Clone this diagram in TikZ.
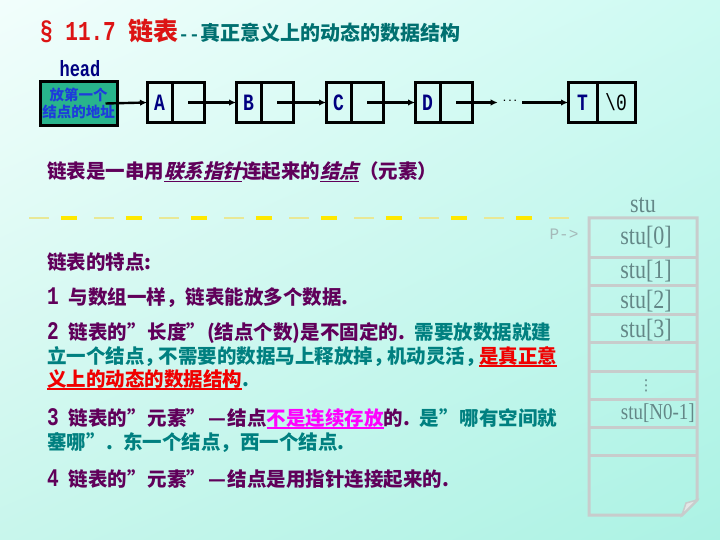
\documentclass[tikz,border=0pt]{standalone}
\usepackage{fontspec}
\usepackage{graphicx}
\usetikzlibrary{arrows.meta,positioning,shadings}
\newfontfamily\cjk{Noto Sans CJK SC}
\newfontfamily\cjkslant[FakeSlant=0.25]{Noto Sans CJK SC}
\newfontfamily\mono{Liberation Mono}
\newfontfamily\rmtimes{Liberation Serif}
\newfontfamily\dejavu{DejaVu Sans}
\definecolor{bgtl}{RGB}{242,254,252}
\definecolor{bgtr}{RGB}{205,250,242}
\definecolor{bgbl}{RGB}{200,246,236}
\definecolor{bgbr}{RGB}{172,242,228}
\definecolor{titlered}{RGB}{220,20,20}
\definecolor{titleteal}{RGB}{0,112,112}
\definecolor{plum}{RGB}{96,0,90}
\definecolor{tealt}{RGB}{0,128,128}
\definecolor{hotred}{RGB}{240,0,0}
\definecolor{hotpink}{RGB}{255,0,255}
\definecolor{navy}{RGB}{0,0,128}
\definecolor{headgreen}{RGB}{40,180,140}
\definecolor{headblue}{RGB}{30,60,220}
\definecolor{boxgray}{RGB}{200,204,204}
\definecolor{stugray}{RGB}{100,135,135}
\definecolor{pgray}{RGB}{165,185,185}
\definecolor{dashpale}{RGB}{232,232,150}
\definecolor{dashgold}{RGB}{255,232,0}
% thick underline in the current colour
\newcommand\ulbar[1]{\setbox0=\hbox{#1}\rlap{\rule[-4pt]{\wd0}{2.5pt}}\box0}
\newcommand\ulthin[1]{\setbox0=\hbox{#1}\rlap{\rule[-3pt]{\wd0}{1.2pt}}\box0}
\newcommand\tallstu[1]{\scalebox{1}[1.2]{#1}}
\newcommand\tallmono[1]{\scalebox{1}[1.3]{#1}}
% wide closing quote, narrow comma, wide dash, wide space
\newcommand\cq{\makebox[1.05em][l]{”}}
\newcommand\nc{\makebox[0.72em][l]{，}}
\newcommand\wdash{\makebox[1.05em][c]{—}}
\newcommand\wsp{\hspace{0.5em}}

\begin{document}
\begin{tikzpicture}[x=1pt,y=-1pt,
  cellbox/.style={rectangle,draw,line width=3pt,outer sep=0pt,inner sep=0pt,
                  minimum height=40pt,font=\mono\bfseries\fontsize{18}{18}\selectfont,text=navy},
  datacell/.style={cellbox,minimum width=25pt},
  ptrcell/.style={cellbox,minimum width=32pt},
  headbox/.style={rectangle,draw,line width=3pt,fill=headgreen,text=headblue,
                  minimum width=77pt,minimum height=44pt,inner sep=0pt,align=center,
                  font=\cjk\bfseries\fontsize{14.5}{17}\selectfont},
  arr/.style={-{Latex[length=7pt,width=6.5pt]},line width=2.4pt},
  txt/.style={anchor=west,inner sep=0pt,font=\cjk\bfseries\fontsize{19.5}{20}\selectfont},
  slot/.style={inner sep=0pt,text=stugray,font=\rmtimes\fontsize{22}{22}\selectfont},
  sep/.style={draw=boxgray,line width=3pt}
]
% background
\shade[upper left=bgtl,upper right=bgtr,lower left=bgbl,lower right=bgbr]
  (0,0) rectangle (720,540);
\useasboundingbox (0,0) rectangle (720,540);

% title
\node[anchor=base west,inner sep=0pt] (title) at (40,41)
  {\color{titlered}{\mono\bfseries\fontsize{21}{21}\selectfont\tallmono{§ 11.7} }%
   {\cjk\bfseries\fontsize{25}{25}\selectfont 链表}%
   \color{titleteal}{\mono\bfseries\fontsize{18}{18}\selectfont -{}-}%
   {\cjk\bfseries\fontsize{20}{20}\selectfont 真正意义上的动态的数据结构}};

% linked list
\node[font=\mono\bfseries\fontsize{17}{17}\selectfont,text=navy,inner sep=0pt] (hdlbl) at (80,69) {\tallmono{head}};
\node[headbox] (hd) at (78.5,103.5) {放第一个\\结点的地址};
\node[datacell] (a) at (159.5,102.5) {\tallmono{A}};
\node[ptrcell,right=0pt of a] (ap) {};
\node[datacell,right=32pt of ap] (b) {\tallmono{B}};
\node[ptrcell,right=0pt of b] (bp) {};
\node[datacell,right=33pt of bp] (c) {\tallmono{C}};
\node[ptrcell,right=0pt of c] (cp) {};
\node[datacell,right=32pt of cp] (d) {\tallmono{D}};
\node[ptrcell,right=0pt of d] (dp) {};
\node[font=\mono\bfseries\fontsize{9}{9}\selectfont,inner sep=4pt] (dots) at (510,102.5) {\raisebox{3pt}{...}};
\node[cellbox,minimum width=29pt] (t) at (582.5,102.5) {\tallmono{T}};
\node[cellbox,minimum width=38pt,right=0pt of t,text=black,font=\mono\fontsize{18}{18}\selectfont] (tp) {\tallmono{\textbackslash 0}};
\draw[arr] ([xshift=-13pt]hd.east) -- (a.west);
\draw[arr] (ap.center) -- (b.west);
\draw[arr] (bp.center) -- (c.west);
\draw[arr] (cp.center) -- (d.west);
\draw[arr] (dp.center) -- (dots.west);
\draw[arr] (dots.east) -- (t.west);

\node[txt] (intro) at (47,172) {\color{plum}链表是一串用{\cjkslant\bfseries\ulthin{联系指针}}连起来的{\cjkslant\bfseries\ulthin{结点}}（元素）};

% dashed separator
\draw[dashpale,line width=1.2pt,dash pattern=on 20pt off 45pt] (29,218) -- (570,218);
\draw[dashgold,line width=3.5pt,dash pattern=on 16pt off 49pt,dash phase=-32pt] (29,218) -- (570,218);

% features
\node[txt] (feat)  at (47,262) {\color{plum}链表的特点:};
\node[txt] (item1) at (47,298) {\color{plum}{\mono\tallmono{1}}\wsp 与数组一样，链表能放多个数据.};
\node[txt] (item2a) at (47,333) {\color{plum}{\mono\tallmono{2}}\wsp 链表的\cq 长度\cq (结点个数)是不固定的.\wsp\color{tealt}需要放数据就建};
\node[txt] (item2b) at (47,357) {\color{tealt}立一个结点\nc 不需要的数据马上释放掉\nc 机动灵活\nc \color{hotred}\ulbar{是真正意}};
\node[txt] (item2c) at (47,380) {\color{hotred}\ulbar{义上的动态的数据结构}\color{tealt}.};
\node[txt] (item3a) at (47,419) {\color{plum}{\mono\tallmono{3}}\wsp 链表的\cq 元素\cq\wdash 结点\color{hotpink}\ulbar{不是连续存放}\color{plum}的.\wsp\color{tealt}是\cq 哪有空间就};
\node[txt] (item3b) at (47,443) {\color{tealt}塞哪\cq .\wsp 东一个结点，西一个结点.};
\node[txt] (item4) at (47,479) {\color{plum}{\mono\tallmono{4}}\wsp 链表的\cq 元素\cq\wdash 结点是用指针连接起来的.};

% array stu
\node[font=\mono\fontsize{16}{16}\selectfont,text=pgray,inner sep=0pt] (pto) at (564,234) {P->};
\draw[sep,line join=miter] (589,218) -- (697,218) -- (697,500) -- (682,515) -- (589,515) -- cycle;
\filldraw[draw=boxgray,fill=boxgray!50,line width=1.5pt] (682,515) -- (686,503) -- (697,500) -- cycle;
\foreach \yy in {257,285,314,342,371,399,427,455}
  \draw[sep] (589,\yy) -- (697,\yy);
\node[slot] (stu)  at (643,205) {\tallstu{stu}};
\node[slot] (stu0) at (646,237) {\tallstu{stu[0]}};
\node[slot] (stu1) at (646,271) {\tallstu{stu[1]}};
\node[slot] (stu2) at (646,301) {\tallstu{stu[2]}};
\node[slot] (stu3) at (646,330) {\tallstu{stu[3]}};
\node[slot,font=\dejavu\fontsize{15}{15}\selectfont] (vdots) at (646,386) {⋮};
\node[slot,anchor=east,font=\rmtimes\fontsize{19}{19}\selectfont] (stun) at (695,413) {\tallstu{stu[N0-1]}};
\end{tikzpicture}
\end{document}
